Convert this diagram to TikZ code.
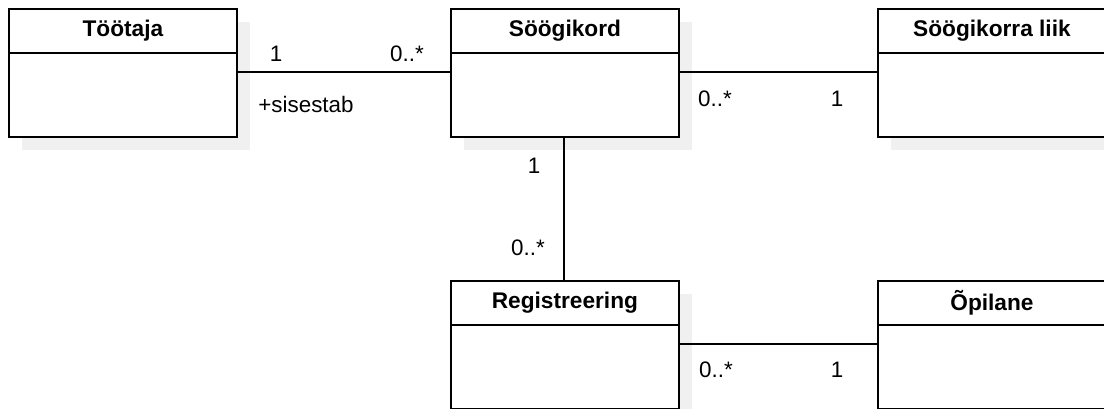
\documentclass[tikz,border=0pt]{standalone}
\usepackage{fontspec}
\setmainfont{Liberation Sans}
\usetikzlibrary{shadows}
\definecolor{shadowgray}{HTML}{F0F0F0}
\begin{document}
\begin{tikzpicture}[x=0.75pt,y=-0.75pt,
  umlclass/.style={draw=black, line width=1.4pt, fill=white, rectangle,
    minimum width=228*0.75pt, minimum height=128*0.75pt, inner sep=0pt,
    drop shadow={shadow xshift=13*0.75pt, shadow yshift=-13*0.75pt,
      fill=shadowgray, opacity=1}},
  title/.style={font=\fontsize{17}{20}\selectfont\bfseries},
  lbl/.style={font=\fontsize{16.8}{20}\selectfont, inner sep=0pt},
  assoc/.style={draw=black, line width=1pt}]
\useasboundingbox (0,0) rectangle (1104,409);

% classes
\foreach \n/\x/\y/\t in {toot/8/8/Töötaja, soog/450/8/Söögikord,
    liik/877/8/Söögikorra liik, reg/450/280/Registreering, opil/877/280/Õpilane}{
  \node[umlclass, anchor=north west] (\n) at (\x,\y) {};
  \draw[line width=1.1pt] ([yshift=-45*0.75pt]\n.north west) -- ([yshift=-45*0.75pt]\n.north east);
  \node[title] (\n-t) at ([yshift=-22.5*0.75pt]\n.north) {\t};
}

% associations
\draw[assoc] (toot.east |- 0,72) -- (soog.west |- 0,72);
\draw[assoc] (soog.east |- 0,72) -- (liik.west |- 0,72);
\draw[assoc] (soog.south -| 564,0) -- (reg.north -| 564,0);
\draw[assoc] (reg.east |- 0,344) -- (opil.west |- 0,344);

% multiplicities and roles
\node[lbl] (m1) at (276,54) {1};
\node[lbl] (m2) at (407,54) {0..*};
\node[lbl] (r1) at (306,104) {+sisestab};
\node[lbl] (m3) at (715,99) {0..*};
\node[lbl] (m4) at (837,99) {1};
\node[lbl] (m5) at (534,166) {1};
\node[lbl] (m6) at (528,248) {0..*};
\node[lbl] (m7) at (716,370) {0..*};
\node[lbl] (m8) at (837,370) {1};
\end{tikzpicture}
\end{document}
